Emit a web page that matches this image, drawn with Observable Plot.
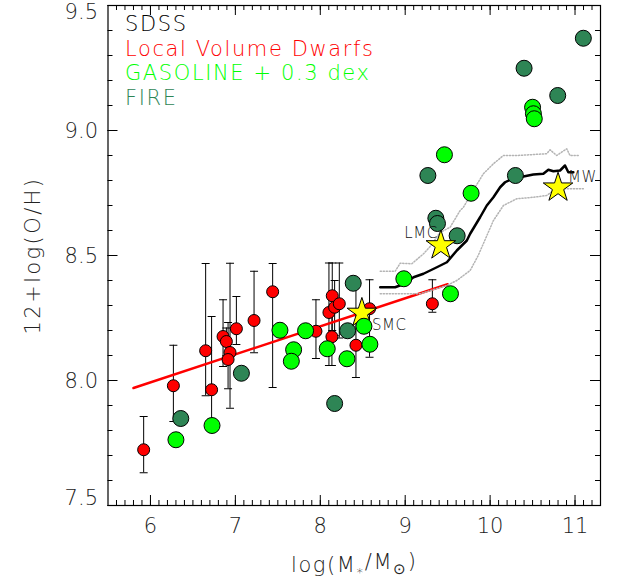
<!DOCTYPE html>
<html>
<head>
<meta charset="utf-8">
<script src="https://cdn.jsdelivr.net/npm/d3@7"></script>
<script src="https://cdn.jsdelivr.net/npm/@observablehq/plot@0.6"></script>
<style>
  body { margin: 0; background: #fff; }
  #chart svg { display: block; }
</style>
</head>
<body>
<div id="chart"></div>
<script>
// Local Volume dwarfs: log stellar mass, 12+log(O/H), and error bounds
const lvdMass = [5.92, 6.27, 6.65, 6.72, 6.855, 6.894, 6.937, 6.914, 7.012, 7.22, 7.439, 7.949, 8.141, 8.102, 8.169, 8.224, 8.137, 8.42, 8.58, 9.32];
const lvdOH   = [7.723, 7.979, 8.119, 7.963, 8.176, 8.156, 8.112, 8.084, 8.207, 8.24, 8.355, 8.197, 8.339, 8.272, 8.293, 8.307, 8.175, 8.141, 8.287, 8.307];
const lvdLo   = [7.631, 7.836, 7.939, 7.847, 8.056, 8.10, 7.889, 7.967, 8.144, 8.111, 7.972, 8.088, 8.20, 8.06, 8.18, 8.17, 8.06, 8.012, 8.093, 8.273];
const lvdHi   = [7.856, 8.141, 8.468, 8.256, 8.323, 8.21, 8.469, 8.232, 8.336, 8.437, 8.468, 8.323, 8.47, 8.47, 8.40, 8.47, 8.29, 8.393, 8.403, 8.403];

// Linear fit to the dwarfs
const fitMass = [5.8, 9.5];
const fitOH   = [7.97, 8.385];

// GASOLINE simulated galaxies (+0.3 dex)
const gasMass = [6.30, 6.725, 7.525, 7.686, 7.659, 7.827, 8.082, 8.314, 8.514, 8.584, 8.984, 9.533, 9.776, 9.462, 10.50, 10.51, 10.52];
const gasOH   = [7.763, 7.82, 8.201, 8.123, 8.077, 8.199, 8.127, 8.087, 8.217, 8.145, 8.407, 8.347, 8.749, 8.903, 9.093, 9.067, 9.047];

// FIRE simulated galaxies
const fireMass = [6.357, 7.071, 8.169, 8.322, 8.388, 9.267, 9.361, 9.38, 9.612, 10.298, 11.098, 10.40, 10.796];
const fireOH   = [7.848, 8.029, 7.908, 8.199, 8.389, 8.82, 8.649, 8.628, 8.579, 8.82, 9.369, 9.249, 9.14];

// SDSS median relation
const sdssMass = [8.706, 8.882, 9.0, 9.098, 9.215, 9.373, 9.491, 9.608, 9.726, 9.765, 9.882, 9.961, 10.039, 10.118, 10.176, 10.294, 10.392, 10.509, 10.627, 10.686, 10.745, 10.824, 10.882, 10.921, 10.98];
const sdssOH   = [8.373, 8.373, 8.388, 8.413, 8.427, 8.453, 8.473, 8.52, 8.56, 8.587, 8.653, 8.70, 8.733, 8.773, 8.793, 8.813, 8.816, 8.824, 8.827, 8.843, 8.837, 8.84, 8.86, 8.833, 8.833];

// SDSS upper scatter envelope
const sdssUpMass = [8.706, 8.882, 8.941, 9.078, 9.216, 9.294, 9.41, 9.529, 9.647, 9.686, 9.80, 9.921, 10.039, 10.157, 10.314, 10.667, 10.706, 10.784, 10.902, 10.941, 11.059];
const sdssUpOH   = [8.437, 8.437, 8.469, 8.467, 8.507, 8.536, 8.592, 8.613, 8.68, 8.693, 8.76, 8.827, 8.867, 8.90, 8.90, 8.907, 8.923, 8.90, 8.927, 8.90, 8.90];

// SDSS lower scatter envelope
const sdssLoMass = [8.706, 9.176, 9.49, 9.608, 9.765, 9.86, 10.039, 10.157, 10.314, 10.509, 10.667, 10.776, 10.863, 11.098];
const sdssLoOH   = [8.347, 8.347, 8.38, 8.40, 8.44, 8.50, 8.64, 8.70, 8.727, 8.733, 8.74, 8.768, 8.767, 8.767];

// Reference galaxies
const starNames = ["SMC", "LMC", "MW"];
const starMass  = [8.49, 9.42, 10.80];
const starOH    = [8.27, 8.54, 8.771];

// Legend entries
const legendLabels = ["SDSS", "Local Volume Dwarfs", "GASOLINE + 0.3 dex", "FIRE"];
const legendColors = ["#000000", "#ff0000", "#00ff00", "#2e8555"];

// Axis ticks
const xMajor = [6, 7, 8, 9, 10, 11];
const yMajor = [7.5, 8.0, 8.5, 9.0, 9.5];
const xMinor = d3.range(56, 114).map(v => v / 10);
const yMinor = d3.range(75, 96).map(v => v / 10);

const pts = (xs, ys) => xs.map((x, i) => ({x, y: ys[i]}));
const lvd = lvdMass.map((m, i) => ({x: m, y: lvdOH[i], lo: lvdLo[i], hi: lvdHi[i]}));
const gas = pts(gasMass, gasOH);
const fire = pts(fireMass, fireOH);
const sdss = pts(sdssMass, sdssOH);
const sdssUp = pts(sdssUpMass, sdssUpOH);
const sdssLo = pts(sdssLoMass, sdssLoOH);
const fit = pts(fitMass, fitOH);
const stars = starNames.map((n, i) => ({name: n, x: starMass[i], y: starOH[i]}));
const legend = legendLabels.map((label, i) => ({label, color: legendColors[i], row: i}));

// horizontal cap used at the ends of the error bars
const capSymbol = {
  draw(ctx, size) {
    const w = Math.sqrt(size / Math.PI);
    ctx.moveTo(-w, 0);
    ctx.lineTo(w, 0);
  }
};

const FONT = "DejaVu Sans";
const W = 200;
const frameH = 500, frameW = 492.5;
const X_TITLE = "log(M*/M⊙)";

const chart = Plot.plot({
  width: 620,
  height: 583,
  marginLeft: 107.5,
  marginRight: 20,
  marginTop: 5,
  marginBottom: 78,
  x: {domain: [5.5, 11.3], axis: null},
  y: {domain: [7.5, 9.5], axis: null},
  style: {fontFamily: FONT, background: "#fff"},
  marks: [
    // inward ticks on all four sides
    Plot.tickX(xMajor, {x: d => d, insetTop: frameH - 10, stroke: "#000"}),
    Plot.tickX(xMinor, {x: d => d, insetTop: frameH - 5, stroke: "#000"}),
    Plot.tickX(xMajor, {x: d => d, insetBottom: frameH - 10, stroke: "#000"}),
    Plot.tickX(xMinor, {x: d => d, insetBottom: frameH - 5, stroke: "#000"}),
    Plot.tickY(yMajor, {y: d => d, insetRight: frameW - 10, stroke: "#000"}),
    Plot.tickY(yMinor, {y: d => d, insetRight: frameW - 5, stroke: "#000"}),
    Plot.tickY(yMajor, {y: d => d, insetLeft: frameW - 10, stroke: "#000"}),
    Plot.tickY(yMinor, {y: d => d, insetLeft: frameW - 5, stroke: "#000"}),
    Plot.frame({stroke: "#000", strokeWidth: 1.2}),

    // tick labels
    Plot.text(xMajor, {x: d => d, y: 7.5, dy: 21, text: d => String(d), fontSize: 21, fontWeight: W, fill: "#222"}),
    Plot.text(yMajor.filter(d => d > 7.5 && d < 9.5), {x: 5.5, y: d => d, dx: -10, dy: 1, textAnchor: "end", text: d => d.toFixed(1), fontSize: 21, fontWeight: W, fill: "#222"}),
    Plot.text([9.5], {x: 5.5, y: d => d, dx: -10, dy: 7, textAnchor: "end", text: d => d.toFixed(1), fontSize: 21, fontWeight: W, fill: "#222"}),
    Plot.text([7.5], {x: 5.5, y: d => d, dx: -10, dy: -7, textAnchor: "end", text: d => d.toFixed(1), fontSize: 21, fontWeight: W, fill: "#222"}),

    // axis titles
    Plot.text(["12+log(O/H)"], {x: 5.5, y: 8.5, dx: -75, dy: 0, rotate: -90, text: d => d, fontSize: 21, fontWeight: W, fill: "#222"}),
    Plot.text([X_TITLE], {x: 8.4, y: 7.5, dy: 60, text: d => d, fontSize: 21, fontWeight: W, fill: "#222"}),

    // error bars
    Plot.ruleX(lvd, {x: "x", y1: "lo", y2: "hi", stroke: "#000", strokeWidth: 1}),
    Plot.dot(lvd, {x: "x", y: "lo", symbol: capSymbol, r: 4, fill: "none", stroke: "#000", strokeWidth: 1}),
    Plot.dot(lvd, {x: "x", y: "hi", symbol: capSymbol, r: 4, fill: "none", stroke: "#000", strokeWidth: 1}),

    // dwarf fit
    Plot.line(fit, {x: "x", y: "y", stroke: "#ff0000", strokeWidth: 2.5}),

    // SDSS relation and its scatter
    Plot.line(sdssUp, {x: "x", y: "y", stroke: "#b4b4b4", strokeWidth: 1.5, strokeDasharray: "1.2,1.8"}),
    Plot.line(sdssLo, {x: "x", y: "y", stroke: "#b4b4b4", strokeWidth: 1.5, strokeDasharray: "1.2,1.8"}),
    Plot.line(sdss, {x: "x", y: "y", stroke: "#000", strokeWidth: 2.5}),

    // points
    Plot.dot(lvd, {x: "x", y: "y", r: 6, fill: "#ff0000", stroke: "#000", strokeWidth: 1}),
    Plot.dot(fire, {x: "x", y: "y", r: 8, fill: "#2e8555", stroke: "#000", strokeWidth: 1}),
    Plot.dot(stars, {x: "x", y: "y", symbol: "star", r: 9.3, fill: "#ffff00", stroke: "#000", strokeWidth: 1}),
    Plot.dot(gas, {x: "x", y: "y", r: 8, fill: "#00ff00", stroke: "#000", strokeWidth: 1}),

    // galaxy labels
    Plot.text(stars.filter(d => d.name === "SMC"), {x: "x", y: "y", text: "name", dx: 10, dy: 12.5, textAnchor: "start", fontSize: 15, fontWeight: W, fill: "#111"}),
    Plot.text(stars.filter(d => d.name === "LMC"), {x: "x", y: "y", text: "name", dx: -3, dy: -12, textAnchor: "end", fontSize: 15, fontWeight: W, fill: "#111"}),
    Plot.text(stars.filter(d => d.name === "MW"), {x: "x", y: "y", text: "name", dx: 10, dy: -10.5, textAnchor: "start", fontSize: 15, fontWeight: W, fill: "#111"}),

    // legend, one row per dataset
    ...legend.map(d => Plot.text([d], {frameAnchor: "top-left", lineAnchor: "middle", dx: 17, dy: 18.5 + d.row * 24.8, text: "label",
      fill: "color", fontSize: 21, fontWeight: W, textAnchor: "start"}))
  ]
});

document.getElementById("chart").appendChild(chart);

// wider letter spacing for the thin sans labels; subscripts in the x title
d3.select(chart).selectAll("text").each(function () {
  const s = d3.select(this);
  const t = this.textContent;
  if (legendLabels.includes(t)) s.style("letter-spacing", "1.6px");
  if (t === "12+log(O/H)") s.style("letter-spacing", "2.4px");
  if (starNames.includes(t)) s.style("letter-spacing", "0.6px");
  if (t === X_TITLE) {
    s.text(null).style("letter-spacing", "1.6px");
    s.append("tspan").text("log(M");
    s.append("tspan").attr("dy", "0.35em").attr("font-size", "13").text("*");
    s.append("tspan").attr("dy", "-0.35em").text("/M");
    s.append("tspan").attr("dy", "0.3em").attr("font-size", "15").text("⊙");
    s.append("tspan").attr("dy", "-0.3em").text(")");
  }
});
</script>
</body>
</html>
